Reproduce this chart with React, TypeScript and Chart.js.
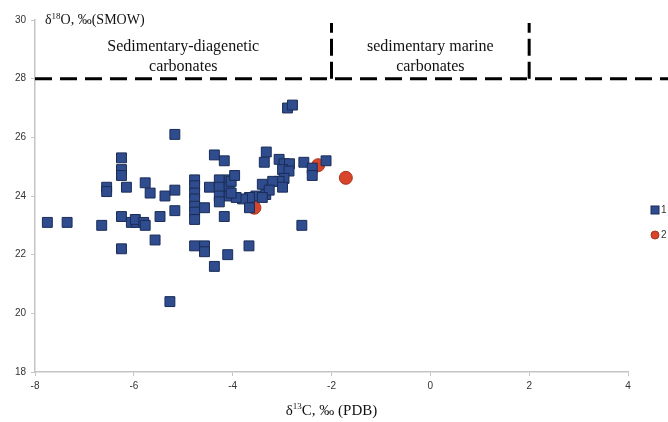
import React, { useEffect, useRef } from "react";
import { Chart, registerables } from "chart.js";

Chart.register(...registerables);

const xTicks = [-8, -6, -4, -2, 0, 2, 4];
const yTicks = [18, 20, 22, 24, 26, 28, 30];

const series1X = [
  -7.75, -7.35, -6.65, -6.55, -6.55, -6.25, -6.25, -6.25, -6.15, -6.25, -6.05, -5.95, -6.25,
  -5.17, -4.37, -4.17,
  -4.77, -4.77, -4.77, -4.77, -4.77, -4.77, -4.77,
  -4.57, -4.47, -4.27, -4.27, -4.07, -4.07, -4.27, -4.07, -4.27, -4.17,
  -5.77, -5.67, -5.37, -5.17, -5.17, -5.47, -5.97, -5.8, -5.77, -5.57,
  -4.77, -4.57, -4.57, -4.1, -4.37, -5.27, -3.67, -2.6,
  -3.32, -3.36, -3.06, -2.96, -2.85, -2.99, -2.86, -2.96, -3.06, -3.19, -2.99, -3.4, -3.33, -3.26,
  -3.53, -3.66, -3.8, -3.93, -4.03, -4.03, -3.96, -3.66, -3.4,
  -2.56, -2.39, -2.39, -2.11,
  -2.89, -2.79,
];
const series1Y = [
  23.1, 23.1, 23.0, 24.3, 24.15, 25.3, 24.9, 24.7, 24.3, 23.3, 23.1, 23.1, 22.2,
  26.1, 25.4, 25.2,
  24.55, 24.35, 24.1, 23.9, 23.65, 23.45, 23.2,
  23.6, 24.3, 24.55, 24.3, 24.55, 24.3, 24.0, 24.0, 23.8, 23.3,
  24.45, 24.1, 24.0, 24.2, 23.5, 23.3, 23.2, 23.1, 23.0, 22.5,
  22.3, 22.3, 22.1, 22.0, 21.6, 20.4, 22.3, 23.0,
  25.5, 25.15, 25.25, 25.1, 25.1, 24.9, 24.85, 24.6, 24.5, 24.5, 24.3, 24.4, 24.05, 24.2,
  24.0, 23.95, 23.9, 23.95, 24.1, 24.5, 24.7, 23.6, 23.95,
  25.15, 24.95, 24.7, 25.2,
  27.0, 27.1,
];
const series2X = [-3.56, -2.27, -1.71];
const series2Y = [23.6, 25.05, 24.62];

const seriesLabels = ["1", "2"];
const boundaryY = 28;
const boundaryX = [-2, 2];
const boundaryTop = 29.9;
const zoneLabels = [
  { lines: ["Sedimentary-diagenetic", "carbonates"], xFrom: -8, xTo: -2 },
  { lines: ["sedimentary marine", "carbonates"], xFrom: -2, xTo: 2 },
];

const blueFill = "#2E4C8E";
const blueBorder = "#1B2C57";
const redFill = "#D8452A";
const redBorder = "#A8321C";

const serif = "'Liberation Serif', 'Times New Roman', serif";

function drawSupText(
  ctx: CanvasRenderingContext2D,
  parts: { t: string; sup?: boolean }[],
  x: number,
  y: number,
  size: number,
  align: "left" | "center"
) {
  const supSize = Math.round(size * 0.62);
  let total = 0;
  for (const p of parts) {
    ctx.font = `${p.sup ? supSize : size}px ${serif}`;
    total += ctx.measureText(p.t).width;
  }
  let cx = align === "center" ? x - total / 2 : x;
  ctx.textAlign = "left";
  ctx.textBaseline = "alphabetic";
  for (const p of parts) {
    ctx.font = `${p.sup ? supSize : size}px ${serif}`;
    ctx.fillText(p.t, cx, p.sup ? y - size * 0.38 : y);
    cx += ctx.measureText(p.t).width;
  }
}

const overlayPlugin = {
  id: "overlay",
  afterDraw(chart: any) {
    const ctx: CanvasRenderingContext2D = chart.ctx;
    const xs = chart.scales.x;
    const ys = chart.scales.y;
    ctx.save();
    ctx.strokeStyle = "#000";
    ctx.lineWidth = 3;
    ctx.setLineDash([17, 8]);
    const yb = ys.getPixelForValue(boundaryY);
    ctx.beginPath();
    ctx.moveTo(xs.left, yb);
    ctx.lineTo(chart.width, yb);
    ctx.stroke();
    ctx.setLineDash([17, 6]);
    for (const bx of boundaryX) {
      const px = xs.getPixelForValue(bx);
      ctx.beginPath();
      ctx.moveTo(px, yb);
      ctx.lineTo(px, ys.getPixelForValue(boundaryTop));
      ctx.stroke();
    }
    ctx.setLineDash([]);

    ctx.fillStyle = "#111";
    ctx.textAlign = "center";
    ctx.textBaseline = "alphabetic";
    ctx.font = `16px ${serif}`;
    for (const z of zoneLabels) {
      const cx = (xs.getPixelForValue(z.xFrom) + xs.getPixelForValue(z.xTo)) / 2;
      z.lines.forEach((ln, i) => {
        ctx.fillText(ln, cx, ys.getPixelForValue(28.93) + i * 20);
      });
    }

    // axis titles
    drawSupText(
      ctx,
      [{ t: "δ" }, { t: "18", sup: true }, { t: "O, ‰(SMOW)" }],
      xs.left + 10,
      ys.getPixelForValue(29.85),
      14,
      "left"
    );
    drawSupText(
      ctx,
      [{ t: "δ" }, { t: "13", sup: true }, { t: "C, ‰ (PDB)" }],
      (xs.left + xs.right) / 2,
      chart.height - 7,
      15,
      "center"
    );

    // legend
    const ly = [210, 235];
    const lx = 655;
    ctx.fillStyle = blueFill;
    ctx.strokeStyle = blueBorder;
    ctx.lineWidth = 1;
    ctx.fillRect(lx - 4, ly[0] - 4, 8, 8);
    ctx.strokeRect(lx - 4, ly[0] - 4, 8, 8);
    ctx.fillStyle = redFill;
    ctx.strokeStyle = redBorder;
    ctx.beginPath();
    ctx.arc(lx, ly[1], 4, 0, Math.PI * 2);
    ctx.fill();
    ctx.stroke();
    ctx.fillStyle = "#333";
    ctx.font = "10px 'Liberation Sans', Arial, sans-serif";
    ctx.textAlign = "left";
    ctx.textBaseline = "middle";
    ctx.fillText(seriesLabels[0], lx + 6, ly[0]);
    ctx.fillText(seriesLabels[1], lx + 6, ly[1]);
    ctx.restore();
  },
};

export default function App() {
  const ref = useRef<HTMLCanvasElement | null>(null);
  useEffect(() => {
    if (!ref.current) return;
    const d1 = series1X.map((x, i) => ({ x, y: series1Y[i] }));
    const d2 = series2X.map((x, i) => ({ x, y: series2Y[i] }));
    const tickFont = { family: "'Liberation Sans Narrow', 'Liberation Sans', Arial, sans-serif", size: 10 };
    const chart = new Chart(ref.current, {
      type: "scatter",
      data: {
        datasets: [
          {
            label: seriesLabels[0],
            data: d1,
            pointStyle: "rect",
            pointRadius: 7,
            backgroundColor: blueFill,
            borderColor: blueBorder,
            borderWidth: 1,
            order: 0,
          },
          {
            label: seriesLabels[1],
            data: d2,
            pointStyle: "circle",
            pointRadius: 6.5,
            backgroundColor: redFill,
            borderColor: redBorder,
            borderWidth: 1,
            order: 1,
          },
        ],
      },
      options: {
        animation: false,
        responsive: false,
        layout: { padding: { top: 20, right: 40, left: 0, bottom: 0 } },
        plugins: { legend: { display: false }, tooltip: { enabled: false } },
        scales: {
          x: {
            type: "linear",
            min: xTicks[0],
            max: xTicks[xTicks.length - 1],
            afterBuildTicks: (s: any) => {
              s.ticks = xTicks.map((v) => ({ value: v }));
            },
            afterFit: (s: any) => {
              s.height = 50;
            },
            ticks: { color: "#333", font: tickFont, padding: 4 },
            grid: { drawOnChartArea: false, drawTicks: true, tickLength: 4, color: "#c4c4c4" },
            border: { color: "#c4c4c4", width: 1.5 },
          },
          y: {
            type: "linear",
            min: yTicks[0],
            max: yTicks[yTicks.length - 1],
            afterBuildTicks: (s: any) => {
              s.ticks = yTicks.map((v) => ({ value: v }));
            },
            afterFit: (s: any) => {
              s.width = 35;
            },
            ticks: { color: "#333", font: tickFont, padding: 5 },
            grid: { drawOnChartArea: false, drawTicks: true, tickLength: 4, color: "#c4c4c4" },
            border: { color: "#c4c4c4", width: 1.5 },
          },
        },
      },
      plugins: [overlayPlugin],
    });
    return () => chart.destroy();
  }, []);
  return (
    <div style={{ position: "fixed", left: 0, top: 0, width: 668, height: 422, background: "#fff" }}>
      <canvas ref={ref} width={668} height={422} />
    </div>
  );
}
